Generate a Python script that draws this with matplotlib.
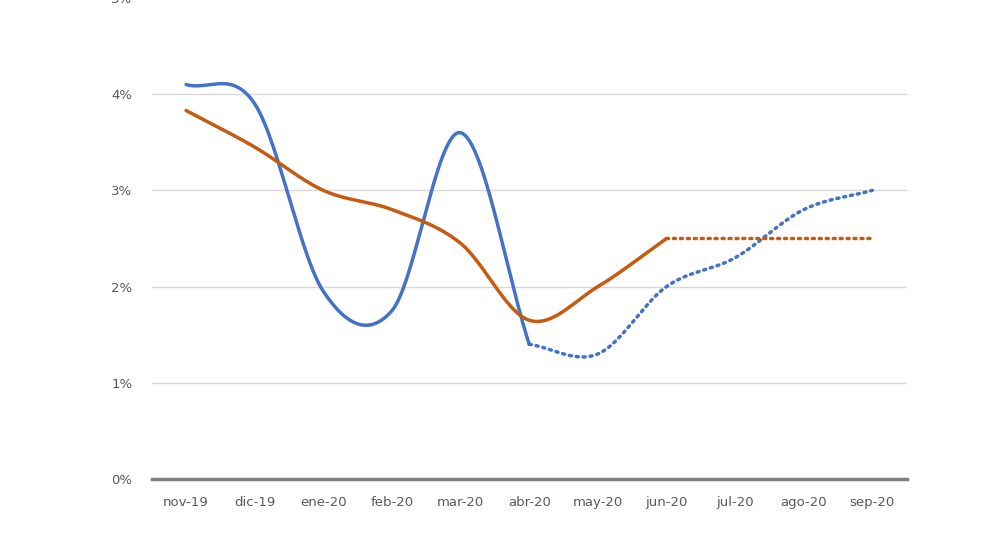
import numpy as np
import matplotlib
matplotlib.use("Agg")
import matplotlib.pyplot as plt

months = ["nov-19","dic-19","ene-20","feb-20","mar-20","abr-20","may-20","jun-20","jul-20","ago-20","sep-20"]
blue_actual = [4.1, 3.9, 1.95, 1.75, 3.6, 1.4]
blue_forecast = [1.4, 1.3, 2.0, 2.3, 2.8, 3.0]   # abr-20 .. sep-20
orange_actual = [3.83, 3.45, 3.0, 2.8, 2.45, 1.65, 2.0, 2.5]
orange_forecast = [2.5, 2.5, 2.5, 2.5]  # jun-20 .. sep-20

def smooth(x0, y, n=30):
    y = np.asarray(y, float)
    x = np.arange(len(y)) + x0
    p = np.concatenate([[2*y[0]-y[1]], y, [2*y[-1]-y[-2]]])
    xs, ys = [], []
    for i in range(len(y)-1):
        p0, p1, p2, p3 = p[i], p[i+1], p[i+2], p[i+3]
        t = np.linspace(0, 1, n, endpoint=False)
        v = 0.5*((2*p1) + (-p0+p2)*t + (2*p0-5*p1+4*p2-p3)*t**2 + (-p0+3*p1-3*p2+p3)*t**3)
        xs.extend(x[i]+t); ys.extend(v)
    xs.append(x[-1]); ys.append(y[-1])
    return np.array(xs), np.array(ys)

fig = plt.figure(figsize=(9.92, 5.58), dpi=100)
ax = fig.add_axes([0.153, 0.1416, 0.761, 0.862])
blue = "#4472C4"; orange = "#C55A11"
x, y = smooth(0, blue_actual); ax.plot(x, y, color=blue, lw=2.5, solid_capstyle="round")
x, y = smooth(5, blue_forecast); ax.plot(x, y, color=blue, lw=2.5, ls=(0, (0.6, 1.4)), dash_capstyle="round")
x, y = smooth(0, orange_actual); ax.plot(x, y, color=orange, lw=2.5, solid_capstyle="round")
x, y = smooth(7, orange_forecast); ax.plot(x, y, color=orange, lw=2.5, ls=(0, (0.6, 1.4)), dash_capstyle="round")

ax.set_xlim(-0.5, 10.5)
ax.set_ylim(0, 5)
ax.set_yticks(range(6))
ax.set_yticklabels([f"{i}%" for i in range(6)])
ax.set_xticks(range(len(months)))
ax.set_xticklabels(months)
ax.grid(axis="y", color="#d9d9d9", lw=1)
ax.set_axisbelow(True)
for s in ["top", "right", "left"]:
    ax.spines[s].set_visible(False)
ax.spines["bottom"].set_color("#7f7f7f")
ax.spines["bottom"].set_linewidth(2.5)
ax.tick_params(length=0, colors="#595959", labelsize=9.5, pad=12)
ax.tick_params(axis="y", pad=14)
fig.savefig("out.png", dpi=100)
